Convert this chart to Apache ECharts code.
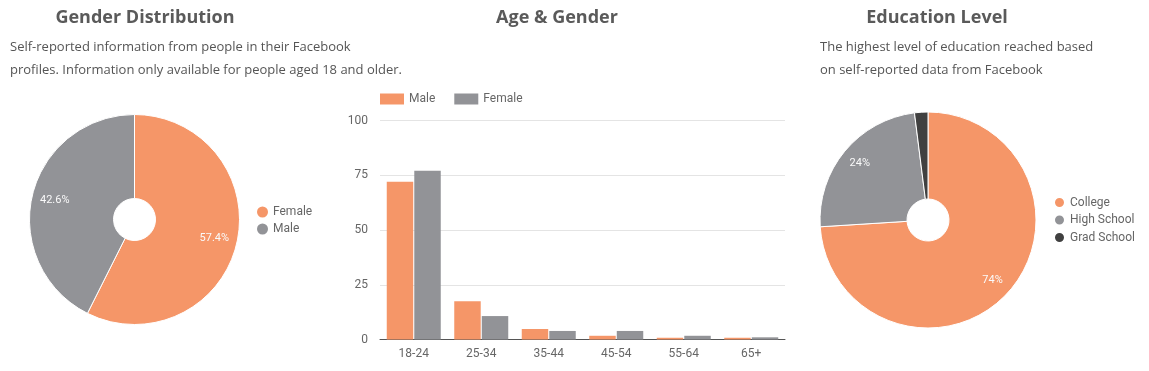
<!DOCTYPE html>
<html>
<head>
<meta charset="utf-8">
<script src="https://cdn.jsdelivr.net/npm/echarts@6/dist/echarts.min.js"></script>
<style>
html,body{margin:0;padding:0;background:#fff;}
#chart{width:1149px;height:371px;}
</style>
</head>
<body>
<div id="chart"></div>
<script>
// ---- data ----
const genderNames = ['Female', 'Male'];
const genderValues = [57.4, 42.6];

const ageCategories = ['18-24', '25-34', '35-44', '45-54', '55-64', '65+'];
const ageMale = [72, 17.5, 4.8, 1.7, 0.8, 0.8];
const ageFemale = [77, 10.7, 3.9, 3.9, 1.7, 1.0];
const ageTicks = [0, 25, 50, 75, 100];

const eduNames = ['College', 'High School', 'Grad School'];
const eduValues = [74, 24, 2];

const titles = ['Gender Distribution', 'Age & Gender', 'Education Level'];
const genderNote = 'Self-reported information from people in their Facebook\nprofiles. Information only available for people aged 18 and older.';
const eduNote = 'The highest level of education reached based\non self-reported data from Facebook';

// ---- styling ----
const ORANGE = '#f59668';
const GRAY = '#929397';
const DARK = '#404040';
const colorsGender = [ORANGE, GRAY];
const colorsEdu = [ORANGE, GRAY, DARK];

const chart = echarts.init(document.getElementById('chart'));

const titleStyle = {fontFamily: 'Open Sans', fontWeight: 'bold', fontSize: 18, color: '#5a5a5a'};
const noteStyle = {fontFamily: 'Open Sans', fontWeight: 'normal', fontSize: 13, color: '#555', lineHeight: 23};
const legendText = {fontFamily: 'Roboto', fontSize: 12, color: '#666'};

function pieData(names, values, colors) {
  return names.map((n, i) => ({name: n, value: values[i], itemStyle: {color: colors[i]}}));
}
function labelData(names, values, minShow) {
  return names.map((n, i) => ({name: 'label-' + n, value: values[i],
    label: {show: values[i] >= minShow}}));
}
function legendData(names, colors) {
  return names.map((n, i) => ({name: n, itemStyle: {color: colors[i]}}));
}

const labelStyle = {
  show: true, position: 'inside', formatter: '{c}%',
  color: '#fafafa', fontFamily: 'Roboto', fontSize: 11
};

const option = {
  animation: false,
  title: [
    {text: titles[0], left: 140, textAlign: 'center', top: 4, textStyle: titleStyle},
    {text: titles[1], left: 552, textAlign: 'center', top: 4, textStyle: titleStyle},
    {text: titles[2], left: 932, textAlign: 'center', top: 4, textStyle: titleStyle},
    {text: genderNote, left: 5, top: 31, textStyle: noteStyle},
    {text: eduNote, left: 815, top: 31, textStyle: noteStyle}
  ],
  legend: [
    {
      data: legendData(genderNames, colorsGender), orient: 'vertical', left: 252, top: 201,
      icon: 'circle', itemWidth: 11, itemHeight: 11, itemGap: 5,
      textStyle: legendText
    },
    {
      data: legendData(['Male', 'Female'], [ORANGE, GRAY]), left: 375, top: 88,
      icon: 'rect', itemWidth: 24, itemHeight: 11, itemGap: 19,
      textStyle: legendText
    },
    {
      data: legendData(eduNames, colorsEdu), orient: 'vertical', left: 1048, top: 191,
      icon: 'circle', itemWidth: 11, itemHeight: 11, itemGap: 4.5,
      textStyle: legendText
    }
  ],
  grid: {left: 380, right: 364, top: 120.5, bottom: 31.5},
  xAxis: {
    type: 'category', data: ageCategories,
    axisLine: {lineStyle: {color: '#555'}}, axisTick: {show: false},
    axisLabel: {fontFamily: 'Roboto', fontSize: 12, color: '#666', margin: 8}
  },
  yAxis: {
    type: 'value', min: ageTicks[0], max: ageTicks[ageTicks.length - 1], interval: ageTicks[1] - ageTicks[0],
    axisLine: {show: false}, axisTick: {show: false},
    axisLabel: {fontFamily: 'Roboto', fontSize: 12, color: '#666', margin: 12},
    splitLine: {lineStyle: {color: '#e4e4e4'}}
  },
  series: [
    {
      type: 'pie', name: 'gender', center: [134.5, 219.5], radius: [21, 105],
      startAngle: 90, clockwise: true, silent: true,
      itemStyle: {borderColor: '#fff', borderWidth: 1},
      label: {show: false}, labelLine: {show: false},
      data: pieData(genderNames, genderValues, colorsGender)
    },
    {
      type: 'pie', name: 'genderLabels', center: [134.5, 219.5], radius: [0, 158],
      startAngle: 90, clockwise: true, silent: true, legendHoverLink: false,
      itemStyle: {color: 'rgba(0,0,0,0)'},
      label: labelStyle, labelLine: {show: false},
      data: labelData(genderNames, genderValues, 5), z: 5
    },
    {
      type: 'bar', name: 'Male', data: ageMale, itemStyle: {color: ORANGE},
      barCategoryGap: '20%', barGap: '4%'
    },
    {
      type: 'bar', name: 'Female', data: ageFemale, itemStyle: {color: GRAY},
      barCategoryGap: '20%', barGap: '4%'
    },
    {
      type: 'pie', name: 'edu', center: [928, 220], radius: [21, 108],
      startAngle: 90, clockwise: true, silent: true,
      itemStyle: {borderColor: '#fff', borderWidth: 1},
      label: {show: false}, labelLine: {show: false},
      data: pieData(eduNames, eduValues, colorsEdu)
    },
    {
      type: 'pie', name: 'eduLabels', center: [928, 220], radius: [0, 171],
      startAngle: 90, clockwise: true, silent: true, legendHoverLink: false,
      itemStyle: {color: 'rgba(0,0,0,0)'},
      label: labelStyle, labelLine: {show: false},
      data: labelData(eduNames, eduValues, 5), z: 5
    }
  ]
};
chart.setOption(option);
</script>
</body>
</html>
